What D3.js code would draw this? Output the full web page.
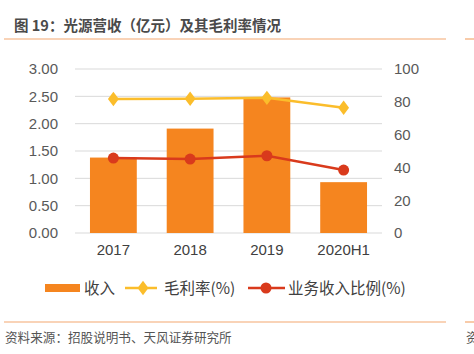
<!DOCTYPE html>
<html>
<head>
<meta charset="utf-8">
<script src="https://cdn.jsdelivr.net/npm/d3@7"></script>
<style>
  body { margin: 0; background: #fff; }
  svg { display: block; font-family: "Noto Sans CJK SC", "Liberation Sans", sans-serif; }
</style>
</head>
<body>
<div id="chart"></div>
<script>
// data
const categories = ['2017', '2018', '2019', '2020H1'];
const revenue = [1.38, 1.91, 2.48, 0.93];        // 收入（亿元）
const grossMargin = [81.7, 81.9, 82.4, 76.4];   // 毛利率(%)
const revenueShare = [45.7, 45.1, 47.1, 38.4];  // 业务收入比例(%)
const leftTicks = [0, 0.5, 1, 1.5, 2, 2.5, 3];
const rightTicks = [0, 20, 40, 60, 80, 100];

const W = 474, H = 354;
const colors = { bar: '#F5851F', margin: '#FBBD2B', share: '#D93A1C', line: '#F4A870' };

const svg = d3.select('#chart').append('svg')
    .attr('width', W)
    .attr('height', H);

// title + rules
svg.append('text')
    .attr('x', 14).attr('y', 31)
    .attr('font-size', 14.5).attr('font-weight', 'bold').attr('fill', '#4a4a4a')
    .text('图 19：光源营收（亿元）及其毛利率情况');

[39, 322].forEach(y => {
    svg.append('line').attr('x1', 4).attr('x2', 446).attr('y1', y).attr('y2', y)
        .attr('stroke', colors.line).attr('stroke-width', 1.2);
    svg.append('line').attr('x1', 465).attr('x2', 474).attr('y1', y).attr('y2', y)
        .attr('stroke', colors.line).attr('stroke-width', 1.2);
});

svg.append('text')
    .attr('x', 5).attr('y', 342)
    .attr('font-size', 12.6).attr('fill', '#555')
    .text('资料来源：招股说明书、天风证券研究所');
// partially visible text from the neighbouring column, as in the reference
svg.append('text')
    .attr('x', 466).attr('y', 342)
    .attr('font-size', 12.6).attr('fill', '#555')
    .text('资');

// scales
const plot = { left: 75, right: 382, top: 69, bottom: 233 };
const x = d3.scaleBand().domain(categories).range([plot.left, plot.right]).paddingInner(0.39).paddingOuter(0.195);
const yL = d3.scaleLinear().domain([0, 3]).range([plot.bottom, plot.top]);
const yR = d3.scaleLinear().domain([0, 100]).range([plot.bottom, plot.top]);

// grid
svg.append('g')
    .selectAll('line')
    .data(leftTicks)
    .join('line')
    .attr('x1', plot.left).attr('x2', plot.right)
    .attr('y1', d => yL(d)).attr('y2', d => yL(d))
    .attr('stroke', '#d9d9d9').attr('stroke-width', 1);

// left axis
const axL = svg.append('g')
    .attr('transform', `translate(${plot.left},0)`)
    .call(d3.axisLeft(yL).tickValues(leftTicks).tickFormat(d3.format('.2f')).tickSize(0).tickPadding(17));
axL.select('.domain').remove();
axL.selectAll('text').attr('font-size', 15).attr('fill', '#595959')
    .attr('font-family', '"Liberation Sans", Arial, sans-serif');

// right axis
const axR = svg.append('g')
    .attr('transform', `translate(${plot.right},0)`)
    .call(d3.axisRight(yR).tickValues(rightTicks).tickSize(0).tickPadding(12));
axR.select('.domain').remove();
axR.selectAll('text').attr('font-size', 15).attr('fill', '#595959')
    .attr('font-family', '"Liberation Sans", Arial, sans-serif');

// bottom axis
const axB = svg.append('g')
    .attr('transform', `translate(0,${plot.bottom})`)
    .call(d3.axisBottom(x).tickSize(0).tickPadding(11));
axB.select('.domain').remove();
axB.selectAll('text').attr('font-size', 15).attr('fill', '#404040')
    .attr('font-family', '"Liberation Sans", Arial, sans-serif');

// bars
svg.append('g')
    .selectAll('rect')
    .data(revenue)
    .join('rect')
    .attr('x', (d, i) => x(categories[i]))
    .attr('y', d => yL(d))
    .attr('width', x.bandwidth())
    .attr('height', d => yL(0) - yL(d))
    .attr('fill', colors.bar);

const cx = i => x(categories[i]) + x.bandwidth() / 2;
const diamond = d3.symbol().type(d3.symbolDiamond).size(60);

// gross margin line
svg.append('path')
    .datum(grossMargin)
    .attr('fill', 'none').attr('stroke', colors.margin).attr('stroke-width', 2.5)
    .attr('d', d3.line().x((d, i) => cx(i)).y(d => yR(d)));
svg.append('g')
    .selectAll('path')
    .data(grossMargin)
    .join('path')
    .attr('d', diamond)
    .attr('transform', (d, i) => `translate(${cx(i)},${yR(d)}) scale(1.3,1)`)
    .attr('fill', colors.margin);

// revenue share line
svg.append('path')
    .datum(revenueShare)
    .attr('fill', 'none').attr('stroke', colors.share).attr('stroke-width', 2.5)
    .attr('d', d3.line().x((d, i) => cx(i)).y(d => yR(d)));
svg.append('g')
    .selectAll('circle')
    .data(revenueShare)
    .join('circle')
    .attr('cx', (d, i) => cx(i))
    .attr('cy', d => yR(d))
    .attr('r', 5.5)
    .attr('fill', colors.share);

// legend
const lg = svg.append('g').attr('font-size', 15.5).attr('fill', '#404040');
const ly = 288;
lg.append('rect').attr('x', 45).attr('y', ly - 4).attr('width', 35).attr('height', 8).attr('fill', colors.bar);
lg.append('text').attr('x', 84).attr('y', ly + 5.5).text('收入');

lg.append('line').attr('x1', 125).attr('x2', 157).attr('y1', ly).attr('y2', ly)
    .attr('stroke', colors.margin).attr('stroke-width', 2.5);
lg.append('path').attr('d', diamond).attr('transform', `translate(143,${ly}) scale(1.3,1)`).attr('fill', colors.margin);
lg.append('text').attr('x', 164).attr('y', ly + 5.5).text('毛利率(%)');

lg.append('line').attr('x1', 248).attr('x2', 285).attr('y1', ly).attr('y2', ly)
    .attr('stroke', colors.share).attr('stroke-width', 2.5);
lg.append('circle').attr('cx', 266).attr('cy', ly).attr('r', 5.5).attr('fill', colors.share);
lg.append('text').attr('x', 288).attr('y', ly + 5.5).text('业务收入比例(%)');
</script>
</body>
</html>
